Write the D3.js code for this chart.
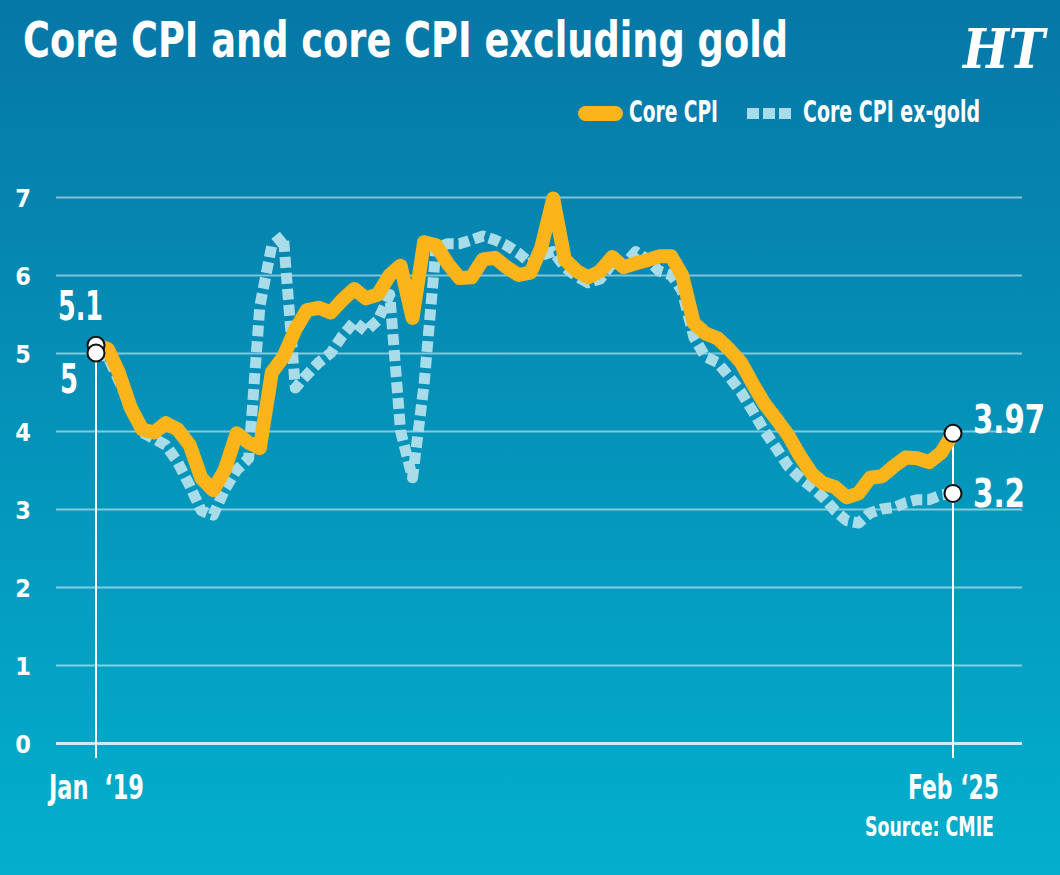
<!DOCTYPE html>
<html>
<head>
<meta charset="utf-8">
<script src="https://cdn.jsdelivr.net/npm/d3@7"></script>
<style>
  html, body { margin: 0; padding: 0; background: #0a86b0; }
  svg { display: block; }
  text { font-family: "Liberation Sans Narrow", "DejaVu Sans Condensed", "Roboto", sans-serif; font-weight: bold; fill: #fff; }
</style>
</head>
<body>
<svg id="chart"></svg>
<script>
// Chart data, monthly Jan 2019 .. Feb 2025
var startMonth = new Date(2019, 0, 1);
var coreCpi = [5.1,5.05,4.75,4.3,4.02,3.98,4.1,4.02,3.82,3.4,3.24,3.5,3.97,3.85,3.78,4.75,4.95,5.3,5.55,5.58,5.52,5.68,5.82,5.7,5.75,6.0,6.12,5.45,6.42,6.38,6.15,5.96,5.97,6.2,6.22,6.1,6.0,6.03,6.35,6.98,6.2,6.05,5.97,6.05,6.23,6.1,6.15,6.19,6.24,6.24,6.0,5.38,5.25,5.19,5.05,4.88,4.6,4.35,4.15,3.95,3.68,3.45,3.33,3.28,3.15,3.2,3.4,3.42,3.55,3.66,3.65,3.6,3.72,3.97];
var coreExGold = [5.0,4.95,4.65,4.3,3.98,3.9,3.82,3.6,3.3,2.98,2.92,3.25,3.5,3.65,5.6,6.38,6.5,4.55,4.72,4.88,5.0,5.22,5.4,5.28,5.42,5.75,4.0,3.4,4.6,6.35,6.4,6.4,6.45,6.5,6.45,6.38,6.28,6.15,6.25,6.3,6.1,5.98,5.9,5.95,6.15,6.12,6.3,6.2,6.05,6.0,5.8,5.2,4.95,4.88,4.7,4.5,4.25,4.0,3.78,3.55,3.4,3.28,3.15,2.98,2.85,2.82,2.95,3.0,3.02,3.08,3.12,3.12,3.18,3.2];
var yTicks = [0, 1, 2, 3, 4, 5, 6, 7];
var xTickLabels = ["Jan  \u201819", "Feb \u201825"];
var seriesNames = ["Core CPI", "Core CPI ex-gold"];
var startLabels = ["5.1", "5"];
var endLabels = ["3.97", "3.2"];

// SVG size
var width = 1060;
var height = 875;

var svg = d3.select("#chart")
    .attr("width", width)
    .attr("height", height);

// Background gradient
var grad = svg.append("defs").append("linearGradient")
    .attr("id", "bg")
    .attr("x1", 0).attr("y1", 0).attr("x2", 0).attr("y2", 1);
grad.append("stop").attr("offset", "0%").attr("stop-color", "#0677a6");
grad.append("stop").attr("offset", "100%").attr("stop-color", "#03afcd");

svg.append("rect")
    .attr("width", width)
    .attr("height", height)
    .attr("fill", "url(#bg)");

// Dates
var dates = coreCpi.map(function(d, i) { return d3.timeMonth.offset(startMonth, i); });
var endDate = dates[dates.length - 1];

// Scales
var x = d3.scaleTime()
    .domain([startMonth, endDate])
    .range([96, 953]);

var y = d3.scaleLinear()
    .domain([0, 7])
    .range([743, 197]);

// Y axis with grid lines
var gridLeft = 56, gridRight = 1022;
var yAxis = d3.axisLeft(y)
    .tickValues(yTicks)
    .tickSize(gridRight - gridLeft)
    .tickPadding(25)
    .tickFormat(d3.format("d"));

var yg = svg.append("g")
    .attr("transform", "translate(" + gridRight + ",0)")
    .call(yAxis);
yg.select(".domain").remove();
yg.selectAll(".tick line")
    .attr("stroke", "#fff")
    .attr("stroke-opacity", d => d === 0 ? 0.8 : 0.5)
    .attr("stroke-width", d => d === 0 ? 3 : 2);
yg.selectAll(".tick text")
    .attr("fill", "#fff")
    .style("font-size", "25px")
    .attr("dy", "0.36em");

// Vertical marker lines at start and end
var markers = [
  {date: startMonth, top: Math.min(coreCpi[0], coreExGold[0])},
  {date: endDate, top: coreCpi[coreCpi.length - 1]}
];
svg.selectAll(".marker")
  .data(markers)
  .enter().append("line")
    .attr("class", "marker")
    .attr("x1", d => x(d.date))
    .attr("x2", d => x(d.date))
    .attr("y1", d => y(d.top))
    .attr("y2", 758)
    .attr("stroke", "#fff")
    .attr("stroke-width", 2);

// X axis labels
var xAxis = d3.axisBottom(x)
    .tickValues([startMonth, endDate])
    .tickSize(0)
    .tickPadding(0)
    .tickFormat((d, i) => xTickLabels[i]);
var xg = svg.append("g")
    .attr("transform", "translate(0,770)")
    .call(xAxis);
xg.select(".domain").remove();
xg.selectAll(".tick text")
    .attr("fill", "#fff")
    .attr("dy", 29)
    .style("font-size", "33px")
    .style("white-space", "pre")
    .attr("textLength", (d, i) => i === 0 ? 95 : 91)
    .attr("lengthAdjust", "spacingAndGlyphs");

// Lines
var line = d3.line()
    .x((d, i) => x(dates[i]))
    .y(d => y(d));

svg.append("path")
    .attr("d", line(coreExGold))
    .attr("fill", "none")
    .attr("stroke", "#a8dce8")
    .attr("stroke-width", 11)
    .attr("stroke-dasharray", "11,5")
    .attr("stroke-linejoin", "round");

svg.append("path")
    .attr("d", line(coreCpi))
    .attr("fill", "none")
    .attr("stroke", "#fbb51b")
    .attr("stroke-width", 14)
    .attr("stroke-linejoin", "round")
    .attr("stroke-linecap", "round");

// End point circles
var points = [
  {date: startMonth, v: coreCpi[0]},
  {date: startMonth, v: coreExGold[0]},
  {date: endDate, v: coreCpi[coreCpi.length - 1]},
  {date: endDate, v: coreExGold[coreExGold.length - 1]}
];
svg.selectAll(".pt")
  .data(points)
  .enter().append("circle")
    .attr("class", "pt")
    .attr("cx", d => x(d.date))
    .attr("cy", d => y(d.v))
    .attr("r", 8.5)
    .attr("fill", "#fff")
    .attr("stroke", "#111")
    .attr("stroke-width", 2);

// Value labels
svg.append("text")
    .attr("x", x(startMonth) - 38).attr("y", y(coreCpi[0]) - 25)
    .style("font-size", "41px")
    .attr("textLength", 45).attr("lengthAdjust", "spacingAndGlyphs")
    .text(startLabels[0]);
svg.append("text")
    .attr("x", x(startMonth) - 36).attr("y", y(coreExGold[0]) + 40)
    .style("font-size", "41px")
    .attr("textLength", 18).attr("lengthAdjust", "spacingAndGlyphs")
    .text(startLabels[1]);
svg.append("text")
    .attr("x", x(endDate) + 20).attr("y", y(coreCpi[coreCpi.length - 1]))
    .style("font-size", "39px")
    .attr("textLength", 72).attr("lengthAdjust", "spacingAndGlyphs")
    .text(endLabels[0]);
svg.append("text")
    .attr("x", x(endDate) + 20).attr("y", y(coreExGold[coreExGold.length - 1]) + 14)
    .style("font-size", "39px")
    .attr("textLength", 52).attr("lengthAdjust", "spacingAndGlyphs")
    .text(endLabels[1]);

// Title
svg.append("text")
    .attr("x", 23).attr("y", 57)
    .style("font-size", "49px")
    .attr("textLength", 765).attr("lengthAdjust", "spacingAndGlyphs")
    .text("Core CPI and core CPI excluding gold");

// HT logo
svg.append("text")
    .attr("x", 963).attr("y", 68)
    .style("font-family", "'DejaVu Serif', serif")
    .style("font-style", "italic")
    .style("font-size", "54px")
    .attr("textLength", 82).attr("lengthAdjust", "spacingAndGlyphs")
    .text("HT");

// Legend
svg.append("rect")
    .attr("x", 578).attr("y", 106)
    .attr("width", 45).attr("height", 15)
    .attr("rx", 7.5)
    .attr("fill", "#fbb51b");
svg.append("text")
    .attr("x", 629).attr("y", 122)
    .style("font-size", "30px")
    .attr("textLength", 89).attr("lengthAdjust", "spacingAndGlyphs")
    .text(seriesNames[0]);

svg.selectAll(".lg-sq")
  .data([0, 1, 2])
  .enter().append("rect")
    .attr("class", "lg-sq")
    .attr("x", d => 747 + d * 16)
    .attr("y", 108)
    .attr("width", 12).attr("height", 11)
    .attr("fill", "#a8dce8");
svg.append("text")
    .attr("x", 803).attr("y", 122)
    .style("font-size", "30px")
    .attr("textLength", 177).attr("lengthAdjust", "spacingAndGlyphs")
    .text(seriesNames[1]);

// Source
svg.append("text")
    .attr("x", 994).attr("y", 836)
    .attr("text-anchor", "end")
    .style("font-size", "26px")
    .attr("textLength", 129).attr("lengthAdjust", "spacingAndGlyphs")
    .text("Source: CMIE");
</script>
</body>
</html>
